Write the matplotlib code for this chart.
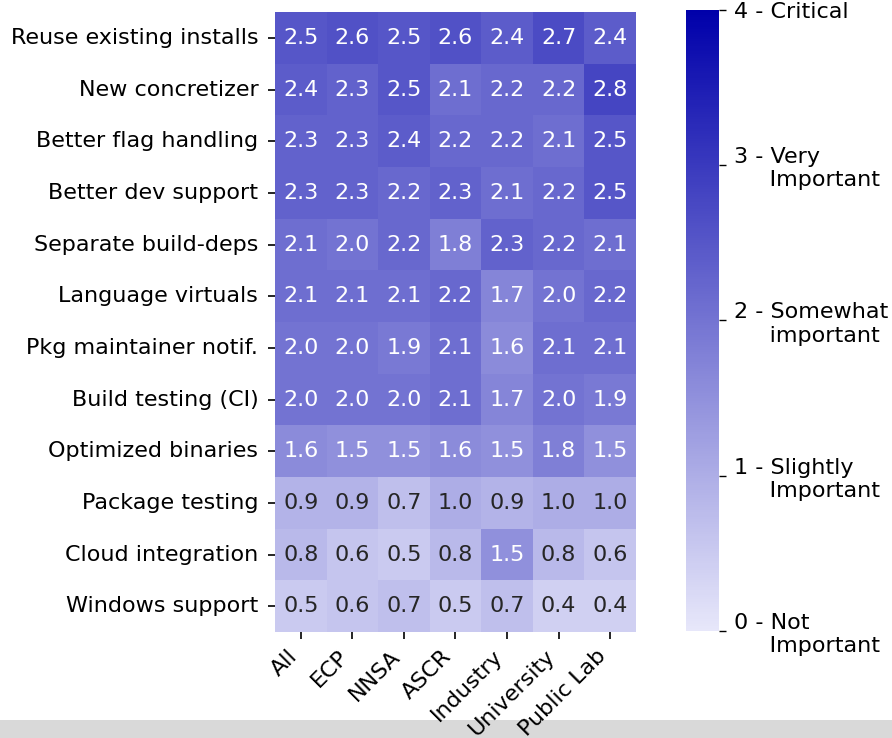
import matplotlib
matplotlib.use("Agg")
import matplotlib.pyplot as plt
import numpy as np
import seaborn as sns
from matplotlib.colors import LinearSegmentedColormap
from matplotlib.patches import Rectangle

features = [
    "Reuse existing installs",
    "New concretizer",
    "Better flag handling",
    "Better dev support",
    "Separate build-deps",
    "Language virtuals",
    "Pkg maintainer notif.",
    "Build testing (CI)",
    "Optimized binaries",
    "Package testing",
    "Cloud integration",
    "Windows support",
]
groups = ["All", "ECP", "NNSA", "ASCR", "Industry", "University", "Public Lab"]

reuse_installs = [2.5, 2.6, 2.5, 2.6, 2.4, 2.7, 2.4]
new_concretizer = [2.4, 2.3, 2.5, 2.1, 2.2, 2.2, 2.8]
flag_handling = [2.3, 2.3, 2.4, 2.2, 2.2, 2.1, 2.5]
dev_support = [2.3, 2.3, 2.2, 2.3, 2.1, 2.2, 2.5]
build_deps = [2.1, 2.0, 2.2, 1.8, 2.3, 2.2, 2.1]
lang_virtuals = [2.1, 2.1, 2.1, 2.2, 1.7, 2.0, 2.2]
maintainer_notif = [2.0, 2.0, 1.9, 2.1, 1.6, 2.1, 2.1]
build_testing = [2.0, 2.0, 2.0, 2.1, 1.7, 2.0, 1.9]
optimized_bins = [1.6, 1.5, 1.5, 1.6, 1.5, 1.8, 1.5]
package_testing = [0.9, 0.9, 0.7, 1.0, 0.9, 1.0, 1.0]
cloud = [0.8, 0.6, 0.5, 0.8, 1.5, 0.8, 0.6]
windows = [0.5, 0.6, 0.7, 0.5, 0.7, 0.4, 0.4]

scale_ticks = [0, 1, 2, 3, 4]
scale_labels = [
    "0 - Not\n     Important",
    "1 - Slightly\n     Important",
    "2 - Somewhat\n     important",
    "3 - Very\n     Important",
    "4 - Critical",
]

scores = np.array([
    reuse_installs, new_concretizer, flag_handling, dev_support, build_deps,
    lang_virtuals, maintainer_notif, build_testing, optimized_bins,
    package_testing, cloud, windows,
])

FS = 16
plt.rcParams["font.family"] = ["DejaVu Sans"]
cmap = LinearSegmentedColormap.from_list("blues", ["#e7e7fa", "#0000aa"])

fig = plt.figure(figsize=(8.92, 7.38), dpi=100)
ax = fig.add_axes([0.3083, 0.1436, 0.4047, 0.8401])
cax = fig.add_axes([0.769, 0.145, 0.037, 0.8415])

sns.heatmap(
    scores, ax=ax, cbar_ax=cax, cmap=cmap, vmin=0, vmax=4,
    annot=True, fmt=".1f", annot_kws={"fontsize": FS},
    xticklabels=groups, yticklabels=features,
)
ax.set_xticklabels(groups, rotation=45, ha="right", fontsize=FS)
ax.set_yticklabels(features, rotation=0, fontsize=FS)
ax.tick_params(axis="both", length=5, width=1.2)
ax.tick_params(axis="y", pad=7)
ax.tick_params(axis="x", pad=5)

cbar = ax.collections[0].colorbar
cbar.set_ticks(scale_ticks)
cbar.set_ticklabels(scale_labels)
cbar.ax.tick_params(labelsize=FS, length=5, width=1.0, pad=6)

# grey strip along the bottom edge
fig.patches.append(Rectangle((0, 0), 1, 18 / 738, transform=fig.transFigure,
                             facecolor="#d9d9d9", edgecolor="none", zorder=-1))

fig.savefig("out.png", dpi=100)
